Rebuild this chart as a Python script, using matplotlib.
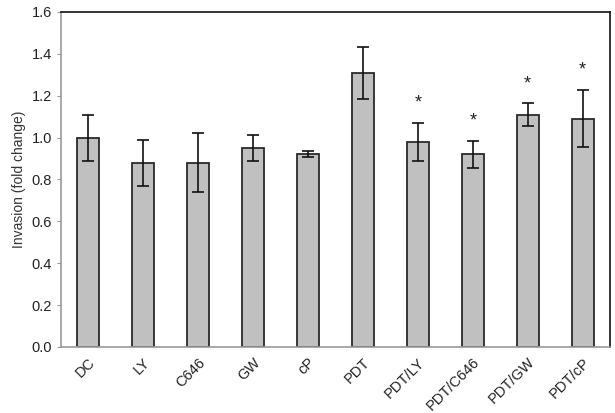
import matplotlib
matplotlib.use('Agg')
import matplotlib.pyplot as plt
import numpy as np

plt.rcParams['font.family'] = ['Liberation Sans', 'DejaVu Sans']

groups = ['DC', 'LY', 'C646', 'GW', 'cP', 'PDT', 'PDT/LY', 'PDT/C646', 'PDT/GW', 'PDT/cP']
means = [1.00, 0.88, 0.88, 0.95, 0.92, 1.31, 0.98, 0.92, 1.11, 1.09]
errs = [0.11, 0.11, 0.14, 0.06, 0.015, 0.125, 0.09, 0.065, 0.053, 0.137]
signif = [False, False, False, False, False, False, True, True, True, True]

fig = plt.figure(figsize=(6.15, 4.13), dpi=100)
ax = fig.add_axes([0.099, 0.160, 0.893, 0.811])

x = np.arange(len(groups))
ax.bar(x, means, width=0.4, color='#c0c0c0', edgecolor='#2a2a2a', linewidth=1.3,
       yerr=errs, error_kw=dict(ecolor='#111111', elinewidth=1.2, capsize=4, capthick=1.2))

# significance stars above the error bars
for xi, m, e, s in zip(x, means, errs, signif):
    if s:
        ax.text(xi, m + e + 0.095, '*', ha='center', va='center', fontsize=13, color='#222222')

ax.set_xlim(-0.5, len(groups) - 0.5)
ax.set_ylim(0, 1.6)
ax.set_yticks(np.arange(0, 1.61, 0.2))
ax.set_yticklabels([f'{v:.1f}' for v in np.arange(0, 1.61, 0.2)], fontsize=10.5, color='#222222')
ax.set_xticks(x)
ax.set_xticklabels(groups, rotation=45, ha='right', rotation_mode='anchor', fontsize=10.5, color='#222222')
ax.tick_params(axis='x', length=0, pad=6)
ax.tick_params(axis='y', length=3, color='#999999', direction='out')
ax.set_ylabel('Invasion (fold change)', fontsize=10, color='#333333')

for side in ['left', 'bottom']:
    ax.spines[side].set_color('#999999')
    ax.spines[side].set_linewidth(1.2)
for side in ['top', 'right']:
    ax.spines[side].set_color('#111111')
    ax.spines[side].set_linewidth(1.2)

fig.savefig('out.png', dpi=100)
